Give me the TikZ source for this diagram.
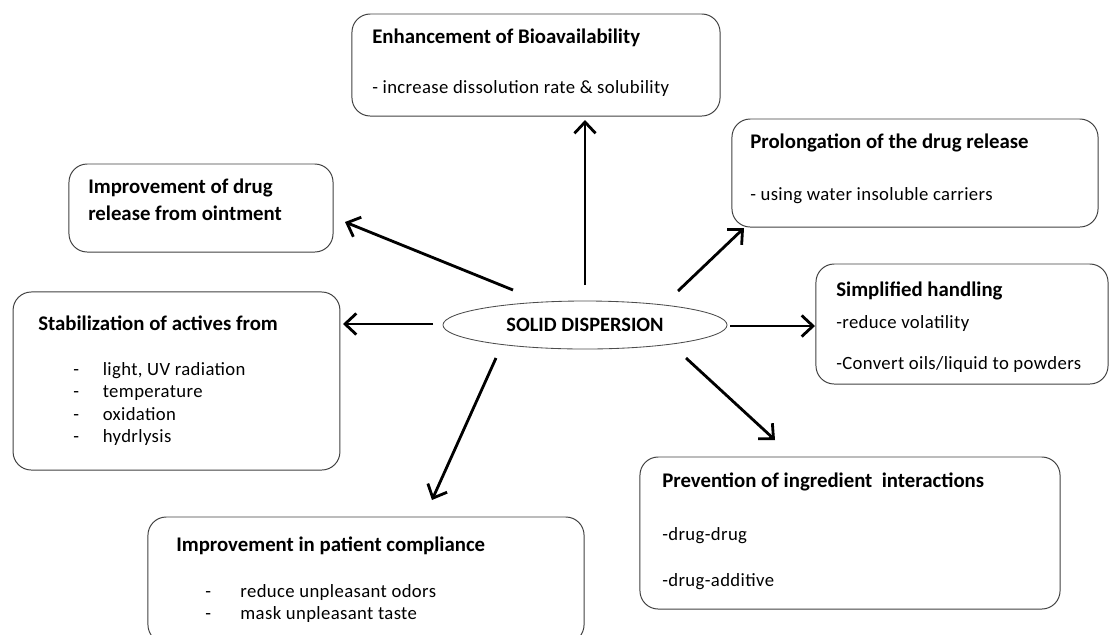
\documentclass[tikz,border=0pt]{standalone}
\usepackage{fontspec}
\setmainfont{Carlito}
\usetikzlibrary{shapes.geometric,arrows.meta}

\tikzset{
  benefit/.style={draw=black!75, line width=0.7pt, rounded corners=13pt, inner sep=0pt},
  head/.style={anchor=west, inner sep=0pt, font=\fontsize{14.8}{19}\selectfont\bfseries, align=left},
  item/.style={anchor=west, inner sep=0pt, font=\fontsize{13.3}{16}\selectfont\addfontfeature{LetterSpace=2}, align=left},
  arr/.style={line width=2pt, -{Straight Barb[length=8pt,width=15pt]}}
}

\begin{document}
\begin{tikzpicture}[x=0.025cm, y=-0.025cm]
    \useasboundingbox (0,0) rectangle (1110,634);

    % centre
    \node[draw=black!70, line width=0.6pt, ellipse, minimum width=7.1cm, minimum height=1.2cm,
          inner sep=1pt, font=\fontsize{14.5}{16}\selectfont\bfseries] (sd) at (585,325) {SOLID DISPERSION};

    % boxes
    \node[benefit, minimum width=9.2cm, minimum height=2.55cm] (bio) at (536,65) {};
    \node[benefit, minimum width=6.6cm, minimum height=2.2cm] (oint) at (201,208) {};
    \node[benefit, minimum width=9.15cm, minimum height=2.7cm] (prol) at (915,173) {};
    \node[benefit, minimum width=8.17cm, minimum height=4.45cm] (stab) at (176.5,381) {};
    \node[benefit, minimum width=7.3cm, minimum height=3.0cm] (hand) at (962,324) {};
    \node[benefit, minimum width=10.5cm, minimum height=3.8cm] (prev) at (850,533) {};
    \node[benefit, minimum width=10.9cm, minimum height=3.15cm] (comp) at (366,580) {};

    % texts
    \node[head] (biot) at (372,38) {Enhancement of Bioavailability};
    \node[item] (bioa) at (372,89) {- increase dissolution rate \& solubility};

    \node[head] (ointt) at (88,200) {Improvement of drug\\release from ointment};

    \node[head] (prolt) at (750,143) {Prolongation of the drug release};
    \node[item] (prola) at (750,196) {- using water insoluble carriers};

    \node[head] (stabt) at (38,323) {Stabilization of actives from};
    \node[item, anchor=north west] (staba) at (73,362)
      {\makebox[21pt][l]{-}light, UV radiation\\
       \makebox[21pt][l]{-}temperature\\
       \makebox[21pt][l]{-}oxidation\\
       \makebox[21pt][l]{-}hydrlysis};

    \node[head] (handt) at (836,291) {Simplified handling};
    \node[item] (handa) at (836,324) {-reduce volatility};
    \node[item] (handb) at (836,365) {-Convert oils/liquid to powders};

    \node[head] (prevt) at (662,482) {Prevention of ingredient\ \ interactions};
    \node[item] (preva) at (662,536) {-drug-drug};
    \node[item] (prevb) at (662,582) {-drug-additive};

    \node[head] (compt) at (176,546) {Improvement in patient compliance};
    \node[item, anchor=north west] (compa) at (205,584)
      {\makebox[25pt][l]{-}reduce unpleasant odors\\
       \makebox[25pt][l]{-}mask unpleasant taste};

    % arrows
    \coordinate (s1) at (585,285);  \coordinate (e1) at (585,120);
    \coordinate (s2) at (513,290);  \coordinate (e2) at (345,222);
    \coordinate (s3) at (433,324);  \coordinate (e3) at (343,324);
    \coordinate (s4) at (730,326);  \coordinate (e4) at (815,326);
    \coordinate (s5) at (678,291);  \coordinate (e5) at (744,228);
    \coordinate (s6) at (496,358);  \coordinate (e6) at (432,500);
    \coordinate (s7) at (686,358);  \coordinate (e7) at (775,440);
    \draw[arr] (s1) -- (e1);
    \draw[arr] (s2) -- (e2);
    \draw[arr] (s3) -- (e3);
    \draw[arr] (s4) -- (e4);
    \draw[arr] (s5) -- (e5);
    \draw[arr] (s6) -- (e6);
    \draw[arr] (s7) -- (e7);
\end{tikzpicture}
\end{document}
